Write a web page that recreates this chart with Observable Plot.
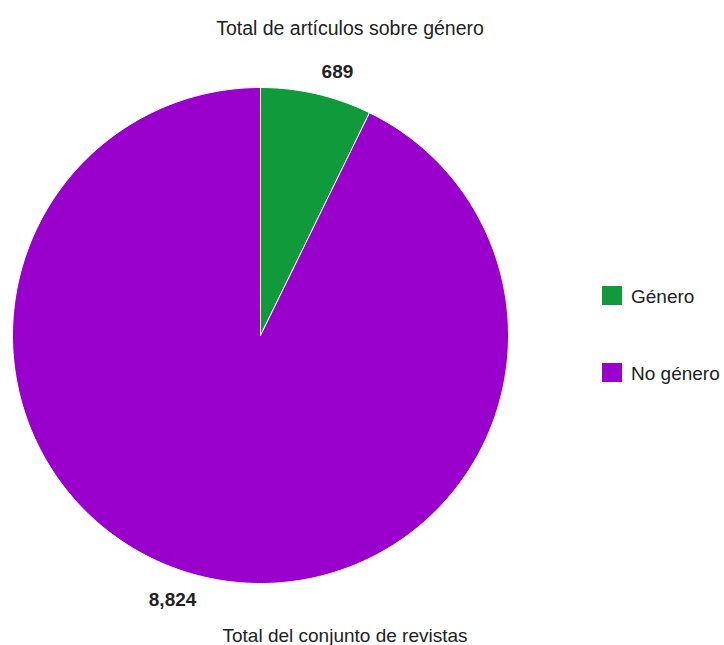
<!DOCTYPE html>
<html>
<head>
<meta charset="utf-8">
<script src="https://cdn.jsdelivr.net/npm/d3@7"></script>
<script src="https://cdn.jsdelivr.net/npm/@observablehq/plot@0.6"></script>
<style>
  body { margin: 0; background: #fff; font-family: "Liberation Sans", Arial, sans-serif; }
  #wrap { position: relative; width: 724px; height: 645px; }
  .t { position: absolute; font-size: 19px; line-height: 1.15; color: #222; white-space: nowrap; }
  .sw { position: absolute; width: 20px; height: 19px; }
</style>
</head>
<body>
<div id="wrap"></div>
<script>
const categories = ["Género", "No género"];
const values = [689, 8824];
const labels = ["689", "8,824"];
const colors = ["#109a3c", "#9900cc"];
const title = "Total de artículos sobre género";
const caption = "Total del conjunto de revistas";

const data = categories.map((c, i) => ({category: c, value: values[i], label: labels[i]}));
const arcs = d3.pie().sort(null).value(d => d.value)(data);

// polygon points for each slice in unit-circle coordinates (0 angle = top, clockwise)
const pts = [];
arcs.forEach(a => {
  const n = Math.max(2, Math.ceil((a.endAngle - a.startAngle) / 0.01));
  pts.push({category: a.data.category, x: 0, y: 0});
  for (let k = 0; k <= n; k++) {
    const t = a.startAngle + (a.endAngle - a.startAngle) * k / n;
    pts.push({category: a.data.category, x: Math.sin(t), y: Math.cos(t)});
  }
  pts.push({category: a.data.category, x: 0, y: 0});
});
const mids = arcs.map(a => {
  const t = (a.startAngle + a.endAngle) / 2;
  return {category: a.data.category, label: a.data.label, x: Math.sin(t), y: Math.cos(t)};
});

const chart = Plot.plot({
  width: 724,
  height: 645,
  marginLeft: 12, marginRight: 216, marginTop: 87, marginBottom: 62,
  x: {domain: [-1, 1], axis: null},
  y: {domain: [-1, 1], axis: null},
  color: {domain: categories, range: colors},
  style: {fontFamily: "Liberation Sans, Arial, sans-serif", overflow: "visible"},
  marks: [
    Plot.line(pts, {x: "x", y: "y", z: "category", fill: "category", stroke: "white", strokeWidth: 1, curve: "linear"}),
    Plot.text(mids.filter(d => d.category === categories[0]), {x: "x", y: "y", text: "label", dx: 21, dy: -22, fontSize: 19, fontWeight: "bold", fill: "#222"}),
    Plot.text(mids.filter(d => d.category === categories[1]), {x: "x", y: "y", text: "label", dx: -32, dy: 23, fontSize: 19, fontWeight: "bold", fill: "#222"})
  ]
});
chart.style.position = "absolute";
chart.style.left = "0px";
chart.style.top = "0px";
const wrap = document.getElementById("wrap");
wrap.appendChild(chart);

function addText(txt, left, top, center, size) {
  const d = document.createElement("div");
  d.className = "t";
  d.textContent = txt;
  d.style.top = top + "px";
  if (size) d.style.fontSize = size + "px";
  if (center) { d.style.left = left + "px"; d.style.transform = "translateX(-50%)"; }
  else d.style.left = left + "px";
  wrap.appendChild(d);
}
addText(title, 350, 17, true, 19.5);
addText(caption, 345, 625, true);
categories.forEach((c, i) => {
  const top = 286 + i * 77;
  const s = document.createElement("div");
  s.className = "sw";
  s.style.left = "602px";
  s.style.top = top + "px";
  s.style.background = colors[i];
  wrap.appendChild(s);
  addText(c, 631, top, false);
});
</script>
</body>
</html>
